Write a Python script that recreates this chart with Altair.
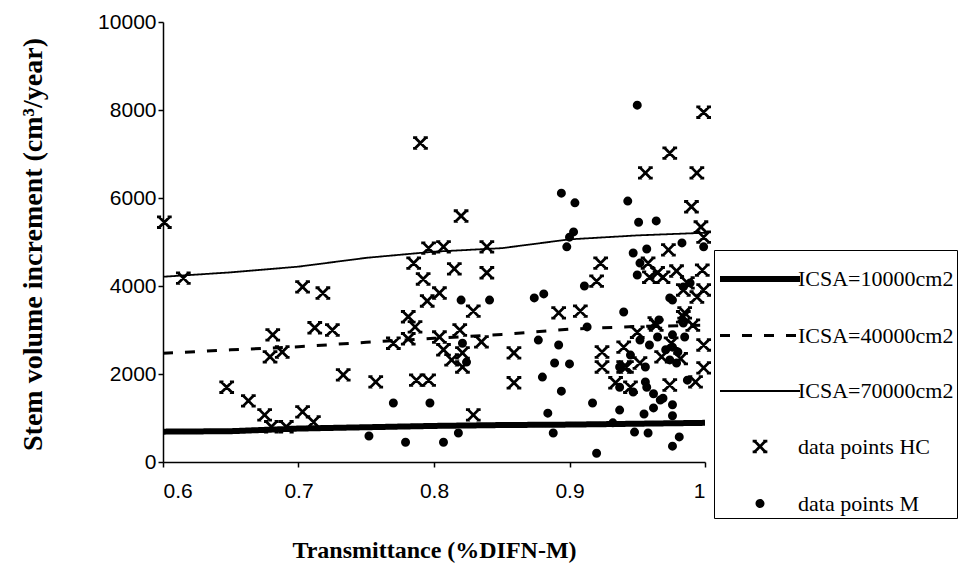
import altair as alt
import pandas as pd

# ---------------- data ----------------
hc_t = [0.601, 0.615, 0.703, 0.718, 0.681, 0.712, 0.725, 0.679, 0.688, 0.733,
        0.647, 0.663, 0.675, 0.680, 0.691, 0.703, 0.711, 0.790, 0.820, 0.796,
        0.807, 0.839, 0.785, 0.815, 0.839, 0.792, 0.804, 0.795, 0.829, 0.781,
        0.786, 0.819, 0.770, 0.781, 0.804, 0.835, 0.807, 0.813, 0.821, 0.821,
        0.859, 0.859, 0.757, 0.787, 0.796, 0.829, 0.999, 0.974, 0.956, 0.994,
        0.990, 0.997, 0.999, 0.973, 0.923, 0.920, 0.958, 0.959, 0.969, 0.979,
        0.998, 0.987, 0.999, 0.994, 0.985, 0.892, 0.908, 0.950, 0.964, 0.991,
        0.999, 0.924, 0.924, 0.940, 0.940, 0.952, 0.968, 0.999, 0.993, 0.934,
        0.945, 0.974, 0.965, 0.984, 0.984, 0.963, 0.942, 0.975, 0.982]
hc_v = [5450, 4180, 3980, 3840, 2890, 3050, 3000, 2390, 2500, 1980,
        1700, 1390, 1070, 800, 800, 1140, 910, 7250, 5590, 4860,
        4890, 4890, 4520, 4390, 4300, 4160, 3840, 3660, 3430, 3300,
        3070, 3000, 2700, 2800, 2840, 2730, 2550, 2320, 2160, 2480,
        2480, 1800, 1820, 1860, 1860, 1070, 7950, 7020, 6570, 6570,
        5800, 5340, 5110, 4820, 4520, 4110, 4520, 4200, 4200, 4340,
        4360, 4070, 3910, 3750, 3390, 3390, 3430, 2950, 3110, 3110,
        2660, 2500, 2160, 2610, 2160, 2250, 2390, 2140, 1820, 1800,
        1700, 1750, 4300, 3910, 3300, 3160, 2160, 2700, 2350]

m_t = [0.820, 0.841, 0.874, 0.877, 0.821, 0.824, 0.770, 0.797, 0.752, 0.779,
       0.807, 0.818, 0.950, 0.894, 0.904, 0.943, 0.951, 0.964, 0.903, 0.900,
       0.898, 0.947, 0.957, 0.983, 0.952, 0.950, 0.911, 0.881, 0.940, 0.892,
       0.889, 0.900, 0.880, 0.894, 0.917, 0.884, 0.888, 0.920, 0.937, 0.955,
       0.962, 0.976, 0.958, 0.981, 0.976, 0.932, 0.948, 0.976, 0.962, 0.969,
       0.947, 0.937, 0.956, 0.956, 0.937, 0.965, 0.976, 0.976, 0.971, 0.980,
       0.974, 0.979, 0.987, 0.985, 0.984, 0.974, 0.976, 0.984, 0.989, 0.999,
       0.913, 0.967, 0.957, 0.952, 0.959, 0.945, 0.966]
m_v = [3680, 3680, 3730, 2770, 2700, 2270, 1340, 1340, 590, 450,
       450, 660, 8110, 6110, 5890, 5930, 5450, 5480, 5230, 5110,
       4890, 4750, 4840, 4980, 4520, 4250, 4000, 3820, 3410, 2660,
       2250, 2230, 1930, 1610, 1340, 1110, 660, 200, 1180, 1090,
       1230, 1300, 660, 570, 360, 890, 680, 1050, 1550, 1450,
       1590, 1700, 1820, 2160, 2160, 2840, 2890, 2610, 2550, 2500,
       2320, 2250, 1860, 2840, 3160, 3730, 3680, 3980, 4070, 4890,
       3070, 1410, 1700, 2770, 2660, 2430, 3230]

line_t = [0.60, 0.65, 0.70, 0.75, 0.80, 0.85, 0.90, 0.95, 1.00]
icsa_10000 = [690, 700, 760, 790, 820, 840, 850, 870, 890]
icsa_40000 = [2470, 2550, 2620, 2720, 2810, 2900, 3020, 3080, 3110]
icsa_70000 = [4210, 4310, 4440, 4640, 4780, 4860, 5060, 5150, 5210]

series_names = ["ICSA=10000cm2", "ICSA=40000cm2", "ICSA=70000cm2",
                "data points HC", "data points M"]
x_ticks = [0.6, 0.7, 0.8, 0.9, 1.0]
y_ticks = [0, 2000, 4000, 6000, 8000, 10000]

# ---------------- tables ----------------
lines_df = pd.concat([
    pd.DataFrame({"t": line_t, "v": vals, "series": name})
    for name, vals in zip(series_names[:3], [icsa_10000, icsa_40000, icsa_70000])
])
points_df = pd.concat([
    pd.DataFrame({"t": hc_t, "v": hc_v, "series": series_names[3]}),
    pd.DataFrame({"t": m_t, "v": m_v, "series": series_names[4]}),
])

# ---------------- symbols ----------------
SYM = 2116  # symbol area -> radius 23 px
LINE_PATH = "M-1.739,0L1.739,0"
X_PATH = ("M-0.23,-0.23L0.23,0.23M-0.23,0.23L0.23,-0.23"
          "M-0.32,-0.23L-0.14,-0.23M0.14,-0.23L0.32,-0.23"
          "M-0.32,0.23L-0.14,0.23M0.14,0.23L0.32,0.23")
DOT_PATH = "M0.1,0A0.1,0.1,0,1,1,-0.1,0A0.1,0.1,0,1,1,0.1,0Z"

shape_scale = alt.Scale(domain=series_names,
                        range=[LINE_PATH, LINE_PATH, LINE_PATH, X_PATH, DOT_PATH])
dash_scale = alt.Scale(domain=series_names,
                       range=[[1, 0], [10, 12], [1, 0], [1, 0], [1, 0]])
sw_scale = alt.Scale(type="ordinal", domain=series_names,
                     range=[6, 3, 1.8, 2.8, 4.4])

leg = alt.Legend(
    title=None, orient="none", legendX=551, legendY=228,
    symbolSize=SYM, symbolOffset=17, labelOffset=12,
    padding=3, rowPadding=20,
    strokeColor="black", fillColor="white",
    labelFont="Liberation Serif", labelFontSize=22, labelColor="black",
    labelLimit=400, symbolOpacity=1,
)

xscale = alt.Scale(domain=[0.6, 1.0], nice=False, zero=False)
yscale = alt.Scale(domain=[0, 10000], nice=False)

xaxis = alt.Axis(
    values=x_ticks, labelExpr="datum.value == 1 ? '1' : format(datum.value, '.1f')",
    title="Transmittance (%DIFN-M)", grid=False,
    labelFont="Liberation Sans", labelFontSize=21, labelColor="black",
    labelPadding=13, tickSize=5, tickColor="black", tickWidth=1.5,
    domainColor="black", domainWidth=1.5,
    titleFont="Liberation Serif", titleFontSize=24, titleFontWeight="bold",
    titleColor="black", titleY=88, titleBaseline="middle",
)
yaxis = alt.Axis(
    values=y_ticks, format="d",
    title="Stem volume increment (cm³/year)", grid=False,
    labelFont="Liberation Sans", labelFontSize=21, labelColor="black",
    labelPadding=2, tickSize=5, tickColor="black", tickWidth=1.5,
    domainColor="black", domainWidth=1.5,
    titleFont="Liberation Serif", titleFontSize=28, titleFontWeight="bold",
    titleColor="black", titleAngle=270, titleX=-130, titleY=222,
    titleAlign="center", titleBaseline="middle",
)

lines = alt.Chart(lines_df).mark_line(color="black", strokeCap="butt", clip=True).encode(
    x=alt.X("t:Q", scale=xscale, axis=xaxis),
    y=alt.Y("v:Q", scale=yscale, axis=yaxis),
    strokeDash=alt.StrokeDash("series:N", scale=dash_scale, legend=leg),
    strokeWidth=alt.StrokeWidth("series:N", scale=sw_scale, legend=leg),
)

points = alt.Chart(points_df).mark_point(filled=False, color="black", size=SYM, opacity=1).encode(
    x=alt.X("t:Q", scale=xscale, axis=xaxis),
    y=alt.Y("v:Q", scale=yscale, axis=yaxis),
    shape=alt.Shape("series:N", scale=shape_scale, legend=leg),
    strokeWidth=alt.StrokeWidth("series:N", scale=sw_scale, legend=leg),
)

chart = alt.layer(lines, points).properties(
    width=542, height=440,
    autosize=alt.AutoSizeParams(type="none"),
    padding={"left": 163, "top": 22, "right": 257, "bottom": 113},
    background="white",
).configure_view(stroke=None)

chart.save("out.html", embed_options={"renderer": "svg", "actions": False})
